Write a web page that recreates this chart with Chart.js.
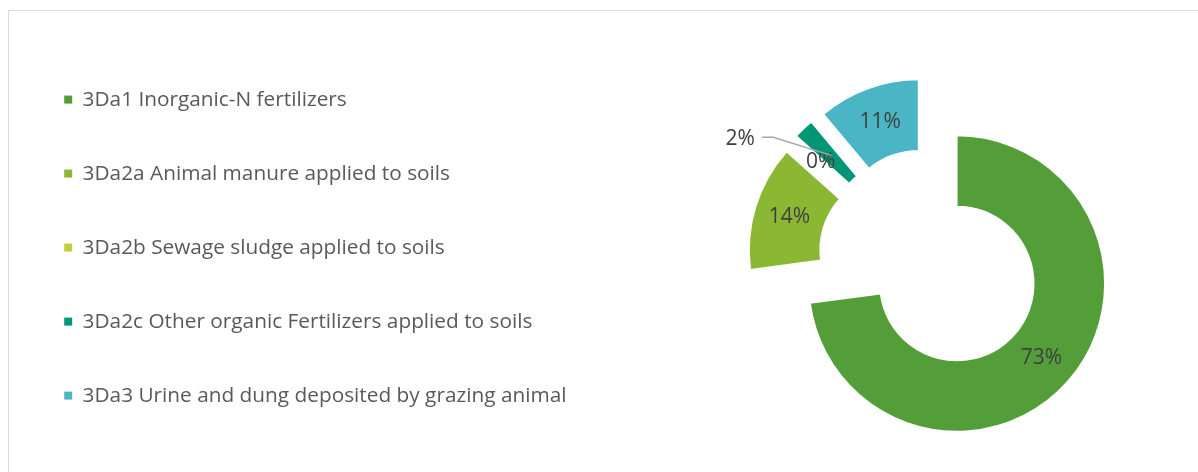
<!DOCTYPE html>
<html>
<head>
<meta charset="utf-8">
<script src="https://cdn.jsdelivr.net/npm/chart.js@4.4.1/dist/chart.umd.min.js"></script>
<style>
  html,body{margin:0;padding:0;background:#fff;overflow:hidden;}
  .frame{position:absolute;left:8px;top:10px;width:1300px;height:600px;border:1px solid #d9d9d9;}
  .wrap{position:absolute;left:0;top:0;width:1290px;height:485px;}
</style>
</head>
<body>
<div class="frame"></div>
<div class="wrap"><canvas id="ch-donut"></canvas></div>
<script>
// ── DATA ──
const categories=[
  '3Da1 Inorganic-N fertilizers',
  '3Da2a Animal manure applied to soils',
  '3Da2b Sewage sludge applied to soils',
  '3Da2c Other organic Fertilizers applied to soils',
  '3Da3 Urine and dung deposited by grazing animal'
];
const shares=[72.9,13.7,0.1,2.2,11.1];   // % of direct N2O from managed soils

// ── STYLE ──
const PALETTE=['#549E39','#8AB833','#C0CF3A','#029676','#4AB5C4'];
const FONT="'Open Sans', sans-serif";
const EXPLODE=35;            // every slice pulled out from the centre
const CALLOUT=3, CALLOUT_DX=-88, CALLOUT_DY=-15;   // small slice labelled outside

Chart.defaults.font.family=FONT;

// shift each arc outwards along its bisector (Excel style explosion)
const explode={
  id:'explode',
  afterDatasetUpdate(chart,args){
    args.meta.data.forEach(arc=>{
      const mid=(arc.startAngle+arc.endAngle)/2;
      arc.x+=Math.cos(mid)*EXPLODE;
      arc.y+=Math.sin(mid)*EXPLODE;
    });
  }
};

// percentage labels in the middle of the ring
const pctLabels={
  id:'pctLabels',
  afterDatasetsDraw(chart){
    const {ctx}=chart;
    const meta=chart.getDatasetMeta(0);
    const total=shares.reduce((a,b)=>a+b,0);
    ctx.save();
    ctx.font='21px '+FONT;
    ctx.fillStyle='#404040';
    ctx.textAlign='center'; ctx.textBaseline='middle';
    meta.data.forEach((arc,i)=>{
      const mid=(arc.startAngle+arc.endAngle)/2;
      const r=(arc.innerRadius+arc.outerRadius)/2;
      const ax=arc.x+Math.cos(mid)*r, ay=arc.y+Math.sin(mid)*r;
      const txt=Math.round(shares[i]/total*100)+'%';
      if(i===CALLOUT){
        const tx=ax+CALLOUT_DX, ty=ay+CALLOUT_DY;
        ctx.strokeStyle='#a6a6a6'; ctx.lineWidth=1.3;
        ctx.beginPath();
        ctx.moveTo(tx+22,ty-2); ctx.lineTo(tx+33,ty-2); ctx.lineTo(ax+3,ay+1);
        ctx.stroke();
        ctx.fillText(txt,tx,ty);
      } else {
        ctx.fillText(txt,ax,ay);
      }
    });
    ctx.restore();
  }
};

new Chart(document.getElementById('ch-donut'),{
  type:'doughnut',
  data:{ labels:categories,
    datasets:[{ data:shares, backgroundColor:PALETTE, borderWidth:1.5, borderColor:'#fff' }] },
  options:{ responsive:true, maintainAspectRatio:false, animation:false,
    radius:148, cutout:'52%',
    layout:{ padding:{left:11, top:36, right:0, bottom:0} },
    plugins:{
      tooltip:{enabled:false},
      legend:{ position:'left', align:'start', maxWidth:560,
        labels:{ color:'#595959', font:{size:20.8}, boxWidth:8, boxHeight:8, padding:53.2,
          generateLabels:c=>Chart.overrides.doughnut.plugins.legend.labels.generateLabels(c)
            .map(l=>({...l, lineWidth:0})) } }
    }
  },
  plugins:[explode,pctLabels]
});
</script>
</body>
</html>
